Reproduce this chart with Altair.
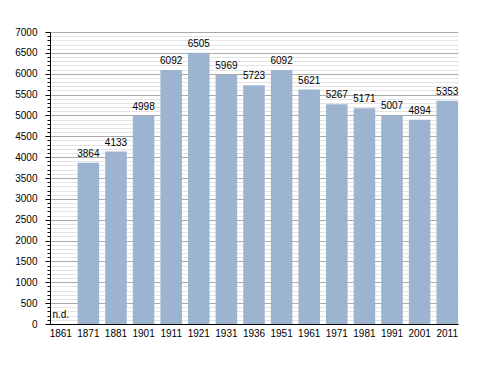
import altair as alt
import pandas as pd

years = ["1861", "1871", "1881", "1901", "1911", "1921", "1931", "1936",
         "1951", "1961", "1971", "1981", "1991", "2001", "2011"]
population = [None, 3864, 4133, 4998, 6092, 6505, 5969, 5723,
              6092, 5621, 5267, 5171, 5007, 4894, 5353]
y_ticks = list(range(0, 7001, 100))

df = pd.DataFrame({"year": years, "pop": population})
df["label"] = [("n.d." if p is None else str(p)) for p in population]
df["ypos"] = [(0 if p is None else p) for p in population]

font = "Liberation Sans"
fs = 10

x_axis = alt.Axis(labelAngle=0, ticks=False, domainColor="black",
                  labelColor="black", labelFont=font, labelFontSize=fs,
                  labelPadding=4, grid=False)

y_axis = alt.Axis(values=y_ticks, title=None, labelOverlap=False, labelFlush=False,
                  labelExpr="datum.value % 500 === 0 ? datum.label : ''",
                  gridColor=alt.condition("datum.value % 500 === 0", alt.value("#aaaaaa"), alt.value("#e4e4e4")),
                  tickSize=alt.condition("datum.value % 500 === 0", alt.value(5), alt.value(3)),
                  tickColor="black", domainColor="black", labelColor="black",
                  labelFont=font, labelFontSize=fs, labelPadding=8, format="d")

yscale = alt.Scale(domain=[0, 7000], nice=False)
xscale = alt.Scale(paddingInner=0.22, paddingOuter=0)

bars = alt.Chart(df).mark_bar(color="#9cb4cf").encode(
    x=alt.X("year:N", sort=years, title=None, scale=xscale, axis=x_axis),
    y=alt.Y("pop:Q", scale=yscale, axis=y_axis),
)

labels = alt.Chart(df).mark_text(baseline="alphabetic", dy=-6, font=font, fontSize=fs, color="black").encode(
    x=alt.X("year:N", sort=years, axis=None),
    y=alt.Y("ypos:Q", axis=None),
    text="label:N",
)

chart = alt.layer(bars, labels).resolve_axis(x="independent", y="independent").properties(
    width=408, height=292,
    autosize=alt.AutoSizeParams(type="none"),
    padding={"left": 50, "top": 32, "right": 30, "bottom": 49},
    background="white",
).configure_view(stroke=None)

chart.save("out.html", embed_options={"renderer": "svg", "actions": False})
